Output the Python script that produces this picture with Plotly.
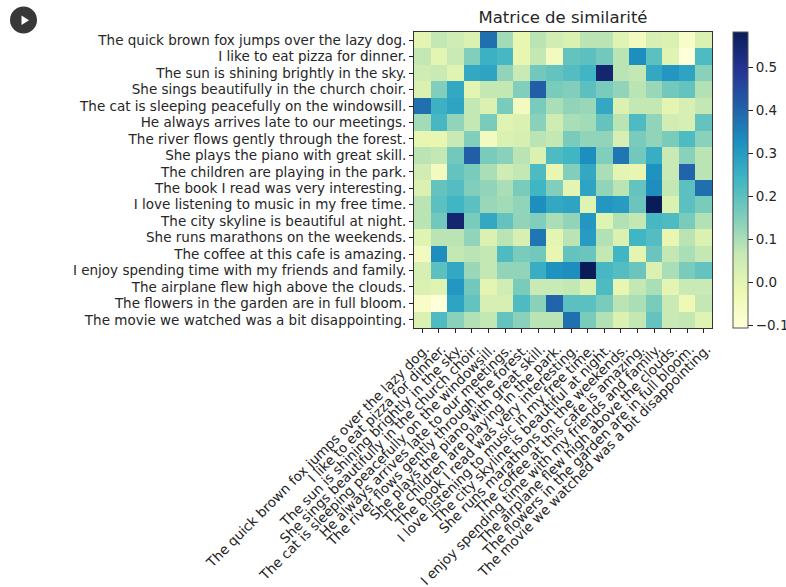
import plotly.graph_objects as go

# Sentences compared in the similarity matrix (rows and columns share the same order)
sentences = [
    "The quick brown fox jumps over the lazy dog.",
    "I like to eat pizza for dinner.",
    "The sun is shining brightly in the sky.",
    "She sings beautifully in the church choir.",
    "The cat is sleeping peacefully on the windowsill.",
    "He always arrives late to our meetings.",
    "The river flows gently through the forest.",
    "She plays the piano with great skill.",
    "The children are playing in the park.",
    "The book I read was very interesting.",
    "I love listening to music in my free time.",
    "The city skyline is beautiful at night.",
    "She runs marathons on the weekends.",
    "The coffee at this cafe is amazing.",
    "I enjoy spending time with my friends and family.",
    "The airplane flew high above the clouds.",
    "The flowers in the garden are in full bloom.",
    "The movie we watched was a bit disappointing.",
]

# Pairwise similarity scores
similarity = [
    [0.00, 0.07, 0.05, 0.02, 0.38, 0.11, -0.01, 0.08, 0.04, 0.02, 0.08, 0.08, 0.01, -0.05, 0.03, 0.02, -0.07, 0.02],
    [0.07, 0.00, 0.06, 0.15, 0.25, 0.23, -0.01, 0.07, -0.05, 0.19, 0.20, 0.17, 0.08, 0.33, 0.20, 0.01, -0.107, 0.22],
    [0.05, 0.06, 0.01, 0.27, 0.28, 0.13, 0.06, 0.17, 0.19, 0.21, 0.24, 0.55, 0.08, 0.07, 0.27, 0.31, 0.28, 0.14],
    [0.02, 0.15, 0.27, 0.00, 0.07, 0.07, 0.15, 0.41, 0.16, 0.15, 0.20, 0.16, 0.13, 0.08, 0.12, 0.17, 0.19, 0.09],
    [0.38, 0.25, 0.28, 0.07, 0.02, 0.16, -0.05, 0.16, 0.10, 0.13, 0.12, 0.27, 0.02, 0.07, 0.07, 0.00, 0.03, 0.07],
    [0.11, 0.23, 0.13, 0.07, 0.16, 0.01, 0.02, 0.14, 0.05, 0.10, 0.11, 0.19, 0.08, 0.22, 0.13, 0.04, 0.03, 0.19],
    [-0.01, -0.01, 0.06, 0.15, -0.05, 0.02, 0.03, 0.08, 0.07, 0.16, 0.13, 0.13, 0.03, 0.16, 0.13, 0.16, 0.22, 0.14],
    [0.08, 0.07, 0.17, 0.41, 0.16, 0.14, 0.08, 0.02, 0.22, 0.24, 0.33, 0.15, 0.37, 0.17, 0.26, 0.06, 0.14, 0.08],
    [0.04, -0.05, 0.19, 0.16, 0.10, 0.05, 0.07, 0.22, -0.01, 0.15, 0.27, 0.10, 0.00, -0.01, 0.32, 0.06, 0.40, 0.08],
    [0.02, 0.19, 0.21, 0.15, 0.13, 0.10, 0.16, 0.24, 0.15, 0.00, 0.28, 0.13, 0.08, 0.19, 0.33, 0.07, 0.20, 0.38],
    [0.08, 0.20, 0.24, 0.20, 0.12, 0.11, 0.13, 0.33, 0.27, 0.28, 0.01, 0.31, 0.30, 0.18, 0.583, 0.02, 0.20, 0.16],
    [0.08, 0.17, 0.55, 0.16, 0.27, 0.19, 0.13, 0.15, 0.10, 0.13, 0.31, 0.01, 0.09, 0.07, 0.23, 0.22, 0.16, 0.09],
    [0.01, 0.08, 0.08, 0.13, 0.02, 0.08, 0.03, 0.37, 0.00, 0.08, 0.30, 0.09, 0.02, 0.24, 0.21, -0.01, 0.08, 0.02],
    [-0.05, 0.33, 0.07, 0.08, 0.07, 0.22, 0.16, 0.17, -0.01, 0.19, 0.18, 0.07, 0.24, 0.00, 0.18, 0.07, 0.10, 0.07],
    [0.03, 0.20, 0.27, 0.12, 0.07, 0.13, 0.13, 0.26, 0.32, 0.33, 0.583, 0.23, 0.21, 0.18, 0.02, 0.10, 0.16, 0.19],
    [0.02, 0.01, 0.31, 0.17, 0.00, 0.04, 0.16, 0.06, 0.06, 0.07, 0.02, 0.22, -0.01, 0.07, 0.10, 0.00, 0.06, 0.06],
    [-0.07, -0.107, 0.28, 0.19, 0.03, 0.03, 0.22, 0.14, 0.40, 0.20, 0.20, 0.16, 0.08, 0.10, 0.16, 0.06, -0.03, 0.07],
    [0.02, 0.22, 0.14, 0.09, 0.07, 0.19, 0.14, 0.08, 0.08, 0.38, 0.16, 0.09, 0.02, 0.07, 0.19, 0.06, 0.07, 0.01],
]

colorbar_ticks = [-0.1, 0.0, 0.1, 0.2, 0.3, 0.4, 0.5]
colorbar_labels = ["\u22120.1", "0.0", "0.1", "0.2", "0.3", "0.4", "0.5"]

# matplotlib-style YlGnBu
ylgnbu = [
    [0.000, "#ffffd9"], [0.125, "#edf8b1"], [0.250, "#c7e9b4"],
    [0.375, "#7fcdbb"], [0.500, "#41b6c4"], [0.625, "#1d91c0"],
    [0.750, "#225ea8"], [0.875, "#253494"], [1.000, "#081d58"],
]

W, H = 786, 587
L, R, T, B = 414, 712, 32, 328  # plot area in pixels
pw, ph = R - L, B - T

def px(x):
    return (x - L) / pw

def py(y):
    return (B - y) / ph

font = "DejaVu Sans"
txt = "#262626"
fs = 13.5

fig = go.Figure(
    go.Heatmap(
        z=similarity,
        x=sentences,
        y=sentences,
        colorscale=ylgnbu,
        colorbar=dict(
            x=px(733), xanchor="left", xref="paper",
            y=0.5, yanchor="middle", len=1.0, lenmode="fraction",
            thickness=15, thicknessmode="pixels",
            xpad=0, ypad=0,
            outlinewidth=1, outlinecolor="#555555",
            tickvals=colorbar_ticks, ticktext=colorbar_labels,
            ticks="outside", ticklen=5, tickcolor="#222222",
            tickfont=dict(family=font, size=fs, color=txt),
        ),
        hoverongaps=False,
    )
)

# every sentence gets its own tick label on both axes
axis_common = dict(
    showline=True, mirror=True, linecolor="#333333", linewidth=1,
    ticks="outside", ticklen=4, tickcolor="#222222", tickwidth=1,
    showgrid=False, zeroline=False, automargin=False,
    tickmode="array", tickvals=sentences, ticktext=sentences,
    tickfont=dict(family=font, size=fs, color=txt),
)

fig.update_xaxes(tickangle=-45, ticklabelstandoff=3, ticklabelshift=3, **axis_common)
fig.update_yaxes(autorange="reversed", **axis_common)

# play-button badge in the top-left corner
shapes = [
    dict(type="circle", xref="paper", yref="paper",
         x0=px(10), x1=px(37), y0=py(33.5), y1=py(6.5),
         fillcolor="#383838", line=dict(width=0)),
    dict(type="path", xref="paper", yref="paper",
         path=f"M {px(21.5)} {py(15.5)} L {px(21.5)} {py(25)} L {px(29)} {py(20.3)} Z",
         fillcolor="white", line=dict(width=0)),
]

fig.update_layout(
    width=W, height=H,
    margin=dict(l=L, r=W - R, t=T, b=H - B, autoexpand=False),
    paper_bgcolor="white", plot_bgcolor="white",
    font=dict(family=font, size=fs, color=txt),
    title=dict(text="Matrice de similarité", x=0.5, xref="paper", xanchor="center",
               y=1 - 17 / H, yref="container", yanchor="middle",
               font=dict(family=font, size=16.5, color=txt)),
    shapes=shapes,
)

fig.write_html("out.html")
